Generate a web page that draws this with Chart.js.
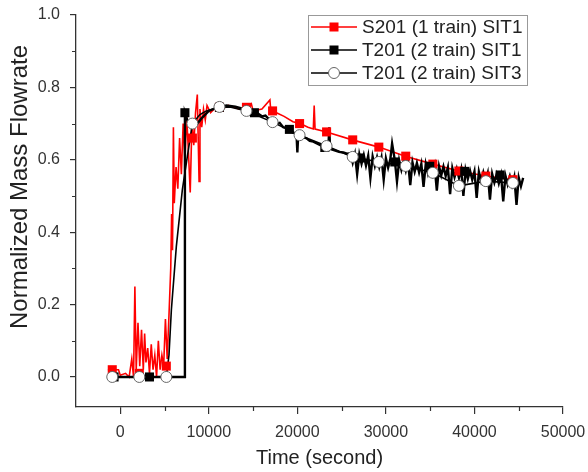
<!DOCTYPE html>
<html>
<head>
<meta charset="utf-8">
<script src="https://cdn.jsdelivr.net/npm/chart.js@4"></script>
<style>
  html, body { margin: 0; padding: 0; background: #fff; }
</style>
</head>
<body>
<canvas id="chart" width="588" height="472"></canvas>
<script>
// axis ticks
const xTicks = [0, 10000, 20000, 30000, 40000, 50000];
const xMinor = [5000, 15000, 25000, 35000, 45000];
const yTicks = [0, 0.2, 0.4, 0.6, 0.8, 1.0];
const yMinor = [0.1, 0.3, 0.5, 0.7, 0.9];

const seriesNames = ['S201 (1 train) SIT1', 'T201 (2 train) SIT1', 'T201 (2 train) SIT3'];

// S201 (1 train) SIT1 - noisy red trace
const s201Time = [-1400, -200, 0, 600, 1000, 1300, 1500, 1650, 1800, 2000, 2200, 2400, 2600, 2750, 2900,
  3100, 3300, 3500, 3700, 3900, 4100, 4300, 4500, 4700, 4900, 5100, 5300, 5500, 5700, 5800, 5900, 6000,
  6100, 6300, 6500, 6700, 6900, 7100, 7300, 7500, 7700, 7900, 8100, 8300, 8500, 8700, 8900, 9000, 9200,
  9400, 9600, 9800, 10200, 10800, 11500, 12200, 12800, 13500, 14300, 14800, 15000, 16000, 16900, 17000,
  17200, 18500, 19500, 20300, 21200, 21800, 21900, 22000, 23300, 26200, 29200, 32200, 35300, 38200, 41300, 44300];
const s201Flow = [0.02, 0.02, 0.005, 0.01, 0.0, 0.05, 0.0, 0.25, 0.02, 0.15, 0.03, 0.13, 0.02, 0.12, 0.04,
  0.08, 0.01, 0.09, 0.02, 0.06, 0.0, 0.10, 0.02, 0.06, 0.03, 0.16, 0.05, 0.17, 0.30, 0.45, 0.35, 0.69,
  0.48, 0.58, 0.52, 0.66, 0.56, 0.70, 0.60, 0.72, 0.62, 0.51, 0.71, 0.64, 0.73, 0.78, 0.54, 0.74, 0.69,
  0.74, 0.71, 0.75, 0.73, 0.745, 0.74, 0.75, 0.745, 0.74, 0.745, 0.755, 0.735, 0.74, 0.765, 0.735,
  0.735, 0.72, 0.705, 0.70, 0.69, 0.685, 0.75, 0.685, 0.677, 0.655, 0.635, 0.61, 0.588, 0.569, 0.555, 0.545];

// T201 (2 train) SIT1 - noisy black trace
const t201aTime = [-1400, 7250, 7300, 7700, 8200, 8700, 9200, 10000, 11000, 12000, 13000, 14000, 14600,
  15150, 15600, 16000, 16400, 16800, 17200, 17600, 18000, 18400, 18800, 19100, 19500, 19900, 20000, 20100,
  20600, 21000, 21400, 21800, 22200, 22600, 23000, 23500, 23600, 23700, 24200, 24700, 25200, 25600,
  26000, 26250, 26500, 26750, 27000, 27250, 27500, 27750, 28000, 28250, 28500, 28750, 29000, 29250,
  29500, 29750, 30000, 30250, 30500, 30700, 31000, 31250, 31500, 31750, 32000, 32250, 32500, 32750,
  33000, 33250, 33500, 33750, 34000, 34250, 34500, 34750, 35000, 35250, 35500, 35750, 36000, 36250,
  36500, 36750, 37000, 37250, 37500, 37750, 38000, 38250, 38500, 38750, 39000, 39250, 39500, 39750,
  40000, 40250, 40500, 40750, 41000, 41250, 41500, 41750, 42000, 42250, 42500, 42750, 43000, 43250,
  43500, 43750, 44000, 44250, 44500, 44750, 45000, 45250, 45500];
const t201aFlow = [0, 0, 0.73, 0.70, 0.69, 0.70, 0.715, 0.735, 0.745, 0.75, 0.747, 0.74, 0.735,
  0.73, 0.727, 0.72, 0.722, 0.712, 0.71, 0.70, 0.702, 0.69, 0.688, 0.684, 0.675, 0.672, 0.62, 0.67,
  0.662, 0.66, 0.652, 0.65, 0.645, 0.64, 0.635, 0.632, 0.69, 0.63, 0.626, 0.622, 0.62, 0.617,
  0.618, 0.592, 0.616, 0.56, 0.615, 0.589, 0.613, 0.584, 0.611, 0.55, 0.609, 0.583, 0.607, 0.58,
  0.606, 0.545, 0.604, 0.578, 0.602, 0.645, 0.60, 0.54, 0.598, 0.572, 0.596, 0.57, 0.595, 0.53,
  0.593, 0.567, 0.591, 0.565, 0.589, 0.525, 0.588, 0.562, 0.586, 0.56, 0.584, 0.515, 0.582, 0.557,
  0.581, 0.555, 0.579, 0.505, 0.577, 0.552, 0.575, 0.55, 0.574, 0.50, 0.572, 0.547, 0.57, 0.545,
  0.568, 0.495, 0.567, 0.542, 0.565, 0.54, 0.563, 0.49, 0.561, 0.537, 0.56, 0.535, 0.558, 0.485,
  0.556, 0.532, 0.554, 0.53, 0.553, 0.475, 0.551, 0.527, 0.55];

// T201 (2 train) SIT3 - smooth black trace
const t201bTime = [-905, 2150, 5200, 5500, 5770, 6330, 7010, 7580, 8145, 9000, 9730, 11200, 12500, 14250,
  17200, 20250, 23300, 26250, 29200, 32240, 35300, 38240, 41290, 44340];
const t201bFlow = [0, 0, 0, 0.06, 0.185, 0.36, 0.517, 0.61, 0.70, 0.725, 0.735, 0.746, 0.745, 0.735,
  0.704, 0.668, 0.638, 0.608, 0.594, 0.583, 0.564, 0.528, 0.541, 0.536];

// symbol positions
const markTime = [-905, 2150, 5200, 8145, 11200, 14250, 17200, 20250, 23300, 26250, 29200, 32240, 35300, 38240, 41290, 44340];
const s201Mark = [0.02, 0.01, 0.03, 0.66, 0.745, 0.745, 0.735, 0.70, 0.677, 0.655, 0.635, 0.61, 0.588, 0.569, 0.555, 0.545];
const t201bMark = [0, 0, 0, 0.70, 0.746, 0.735, 0.704, 0.668, 0.638, 0.608, 0.594, 0.583, 0.564, 0.528, 0.541, 0.536];
const t201aMarkTime = [-700, 3300, 7300, 11200, 15150, 19100, 23100, 27050, 31000, 34950, 38900, 42900];
const t201aMark = [0, 0, 0.73, 0.745, 0.73, 0.684, 0.634, 0.605, 0.594, 0.582, 0.568, 0.558];

const RED = '#ff0000';
const BLACK = '#000000';
const FONT = 'Liberation Sans, Arial, sans-serif';

const pts = (xs, ys) => xs.map((x, i) => ({ x: x, y: ys[i] }));

// short minor ticks + rotated y title
const axisExtras = {
  id: 'axisExtras',
  afterDraw(chart) {
    const ctx = chart.ctx;
    const xs = chart.scales.x, ys = chart.scales.y;
    const area = chart.chartArea;
    ctx.save();
    ctx.strokeStyle = '#333';
    ctx.lineWidth = 1.2;
    ctx.beginPath();
    xMinor.forEach((v) => {
      const px = Math.round(xs.getPixelForValue(v)) + 0.5;
      ctx.moveTo(px, area.bottom);
      ctx.lineTo(px, area.bottom + 4);
    });
    yMinor.forEach((v) => {
      const py = Math.round(ys.getPixelForValue(v)) + 0.5;
      ctx.moveTo(area.left - 4, py);
      ctx.lineTo(area.left, py);
    });
    ctx.stroke();

    ctx.translate(20, 187);
    ctx.rotate(-Math.PI / 2);
    ctx.fillStyle = '#222';
    ctx.font = '24px ' + FONT;
    ctx.textAlign = 'center';
    ctx.textBaseline = 'middle';
    ctx.fillText('Normalized Mass Flowrate', 0, 0);
    ctx.restore();
  }
};

// legend with line + symbol samples
const boxLegend = {
  id: 'boxLegend',
  afterDraw(chart) {
    const ctx = chart.ctx;
    const left = 308, top = 15, width = 219, height = 70;
    ctx.save();
    ctx.fillStyle = '#fff';
    ctx.fillRect(left, top, width, height);
    ctx.strokeStyle = '#999';
    ctx.lineWidth = 1;
    ctx.strokeRect(left + 0.5, top + 0.5, width, height);
    const styles = [
      { color: RED, shape: 'rect', fill: RED },
      { color: BLACK, shape: 'rect', fill: BLACK },
      { color: BLACK, shape: 'circle', fill: '#fff' }
    ];
    seriesNames.forEach((name, i) => {
      const y = top + 12 + i * 23;
      const s = styles[i];
      ctx.strokeStyle = s.color;
      ctx.lineWidth = 1.6;
      ctx.beginPath();
      ctx.moveTo(left + 3, y);
      ctx.lineTo(left + 49, y);
      ctx.stroke();
      ctx.fillStyle = s.fill;
      if (s.shape === 'rect') {
        ctx.fillRect(left + 26 - 4.5, y - 4.5, 9, 9);
      } else {
        ctx.beginPath();
        ctx.arc(left + 26, y, 5.5, 0, Math.PI * 2);
        ctx.fill();
        ctx.lineWidth = 1;
        ctx.strokeStyle = '#666';
        ctx.stroke();
      }
      ctx.fillStyle = '#222';
      ctx.font = '19px ' + FONT;
      ctx.textBaseline = 'middle';
      ctx.fillText(name, left + 54, y + 1);
    });
    ctx.restore();
  }
};

new Chart(document.getElementById('chart'), {
  type: 'line',
  data: {
    datasets: [
      {
        label: seriesNames[2] + ' symbols',
        data: pts(markTime, t201bMark),
        showLine: false,
        pointStyle: 'circle',
        pointRadius: 5.5,
        pointBackgroundColor: '#fff',
        pointBorderColor: '#666',
        pointBorderWidth: 1
      },
      {
        label: seriesNames[1] + ' symbols',
        data: pts(t201aMarkTime, t201aMark),
        showLine: false,
        pointStyle: 'rect',
        pointRadius: 6.4,
        pointBackgroundColor: BLACK,
        pointBorderWidth: 0
      },
      {
        label: seriesNames[0] + ' symbols',
        data: pts(markTime, s201Mark),
        showLine: false,
        pointStyle: 'rect',
        pointRadius: 6.4,
        pointBackgroundColor: RED,
        pointBorderWidth: 0
      },
      {
        label: seriesNames[2],
        data: pts(t201bTime, t201bFlow),
        borderColor: BLACK,
        borderWidth: 1.6,
        pointRadius: 0
      },
      {
        label: seriesNames[1],
        data: pts(t201aTime, t201aFlow),
        borderColor: BLACK,
        borderWidth: 2.4,
        pointRadius: 0
      },
      {
        label: seriesNames[0],
        data: pts(s201Time, s201Flow),
        borderColor: RED,
        borderWidth: 1.6,
        pointRadius: 0
      }
    ]
  },
  options: {
    responsive: false,
    animation: false,
    parsing: false,
    layout: { padding: { left: 0, top: 15, right: 25, bottom: 0 } },
    plugins: {
      legend: { display: false },
      tooltip: { enabled: false }
    },
    scales: {
      x: {
        type: 'linear',
        min: -5000,
        max: 50000,
        afterBuildTicks: (scale) => { scale.ticks = xTicks.map((v) => ({ value: v })); },
        afterFit: (scale) => {
          scale.height = 65;
          scale.paddingLeft = 0;
          scale.paddingRight = 0;
        },
        grid: { drawOnChartArea: false, drawTicks: true, tickLength: 7, color: '#333', lineWidth: 1.2 },
        border: { display: true, color: '#333', width: 1.3 },
        ticks: {
          autoSkip: false,
          maxRotation: 0,
          padding: 9,
          color: '#333',
          font: { family: FONT, size: 16 },
          callback: (v) => String(v)
        },
        title: {
          display: true,
          text: 'Time (second)',
          color: '#222',
          font: { family: FONT, size: 20 },
          padding: { top: 0, bottom: 2 }
        }
      },
      y: {
        type: 'linear',
        min: -0.083,
        max: 1.0,
        afterBuildTicks: (scale) => { scale.ticks = yTicks.map((v) => ({ value: v })); },
        afterFit: (scale) => {
          scale.width = 76;
          scale.paddingTop = 0;
          scale.paddingBottom = 0;
        },
        grid: { drawOnChartArea: false, drawTicks: true, tickLength: 6, color: '#333', lineWidth: 1.2 },
        border: { display: true, color: '#333', width: 1.3 },
        ticks: {
          autoSkip: false,
          padding: 10,
          color: '#333',
          font: { family: FONT, size: 16 },
          callback: (v) => v.toFixed(1)
        }
      }
    }
  },
  plugins: [axisExtras, boxLegend]
});
</script>
</body>
</html>
